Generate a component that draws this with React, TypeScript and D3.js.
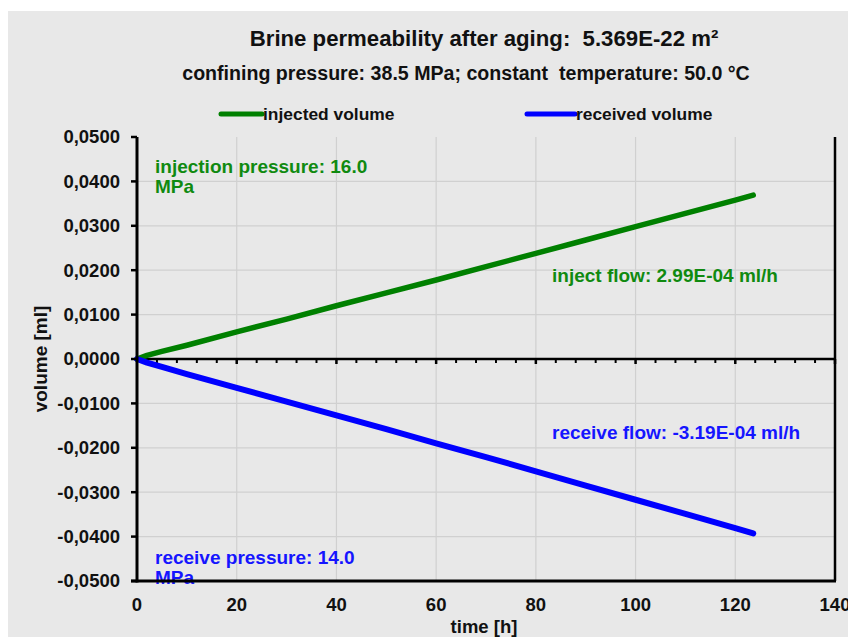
import React from "react";
import * as d3 from "d3";

// Injected volume (ml) vs. time (h)
const injectedTime = [0, 2, 5, 10, 20, 30, 40, 50, 60, 70, 80, 90, 100, 110, 120, 123.6];
const injectedVolume = [0, 0.0008, 0.0017, 0.0031, 0.0061, 0.009, 0.012, 0.0149, 0.0178, 0.0208, 0.0238, 0.0268, 0.0298, 0.0328, 0.0358, 0.0369];

// Received volume (ml) vs. time (h)
const receivedTime = [0, 2, 5, 10, 20, 30, 40, 50, 60, 70, 80, 90, 100, 110, 120, 123.6];
const receivedVolume = [0, -0.0008, -0.0018, -0.0034, -0.0065, -0.0096, -0.0127, -0.0158, -0.019, -0.0221, -0.0253, -0.0285, -0.0317, -0.0349, -0.0381, -0.0393];

const xTicks = [0, 20, 40, 60, 80, 100, 120, 140];
const yTicks = [0.05, 0.04, 0.03, 0.02, 0.01, 0, -0.01, -0.02, -0.03, -0.04, -0.05];

const title = "Brine permeability after aging:\u00a0 5.369E-22 m²";
const subtitle = "confining pressure: 38.5 MPa; constant\u00a0 temperature: 50.0 °C";
const legendLabels = ["injected volume", "received volume"];
const injectPressure = ["injection pressure: 16.0", "MPa"];
const receivePressure = ["receive pressure: 14.0", "MPa"];
const injectFlow = "inject flow: 2.99E-04 ml/h";
const receiveFlow = "receive flow: -3.19E-04 ml/h";

const GREEN = "#008000";
const BLUE = "#0000ff";
const GREEN_TEXT = "#108a10";
const BLUE_TEXT = "#1515ff";
const FONT = "'Liberation Sans', Arial, sans-serif";

export default function App() {
  const W = 848;
  const H = 637;
  const left = 137;
  const right = 835;
  const top = 137;
  const bottom = 581;

  const x = d3.scaleLinear().domain([0, 140]).range([left, right]);
  const y = d3.scaleLinear().domain([-0.05, 0.05]).range([bottom, top]);

  const line = d3
    .line<[number, number]>()
    .x((d) => x(d[0]))
    .y((d) => y(d[1]));

  const injected = injectedTime.map((t, i) => [t, injectedVolume[i]] as [number, number]);
  const received = receivedTime.map((t, i) => [t, receivedVolume[i]] as [number, number]);

  const minorTicks = d3.range(0, 141, 4).filter((t) => t % 20 !== 0);
  const fmtY = (v: number) => d3.format(".4f")(v).replace(".", ",").replace("−", "-");

  return (
    <svg
      width={W}
      height={H}
      style={{ position: "absolute", left: 0, top: 0 }}
      fontFamily={FONT}
      fontWeight="bold"
    >
      <rect x={0} y={0} width={W} height={H} fill="#ffffff" />
      <rect x={8} y={11} width={W - 8} height={H - 11} fill="#e8e8e8" />

      <text x={484} y={46} textAnchor="middle" fontSize={22.2} fill="#111">
        {title}
      </text>
      <text x={466} y={80} textAnchor="middle" fontSize={19.6} fill="#111">
        {subtitle}
      </text>

      {/* legend */}
      <line x1={221} x2={262} y1={114} y2={114} stroke={GREEN} strokeWidth={5} strokeLinecap="round" />
      <text x={263} y={120} fontSize={17.4} fill="#111">{legendLabels[0]}</text>
      <line x1={527} x2={575} y1={114} y2={114} stroke={BLUE} strokeWidth={5} strokeLinecap="round" />
      <text x={576} y={120} fontSize={17.4} fill="#111">{legendLabels[1]}</text>

      {/* grid */}
      {yTicks.filter((v) => v !== 0.05 && v !== -0.05 && v !== 0).map((v) => (
        <line key={"gy" + v} x1={left} x2={right} y1={y(v)} y2={y(v)} stroke="#d0d0d0" strokeWidth={1.2} />
      ))}
      {xTicks.filter((t) => t !== 0 && t !== 140).map((t) => (
        <line key={"gx" + t} x1={x(t)} x2={x(t)} y1={top} y2={bottom} stroke="#d0d0d0" strokeWidth={1.2} />
      ))}

      {/* annotations */}
      <g fontSize={19}>
        <text x={155} y={173} fill={GREEN_TEXT}>{injectPressure[0]}</text>
        <text x={155} y={193} fill={GREEN_TEXT}>{injectPressure[1]}</text>
        <text x={552} y={282} fill={GREEN_TEXT}>{injectFlow}</text>
        <text x={552} y={439} fill={BLUE_TEXT}>{receiveFlow}</text>
        <text x={155} y={564} fill={BLUE_TEXT}>{receivePressure[0]}</text>
        <text x={155} y={584} fill={BLUE_TEXT}>{receivePressure[1]}</text>
      </g>

      {/* zero line with ticks */}
      <line x1={left} x2={right} y1={y(0)} y2={y(0)} stroke="#000" strokeWidth={2.5} />
      {minorTicks.map((t) => (
        <line key={"mt" + t} x1={x(t)} x2={x(t)} y1={y(0)} y2={y(0) + 4} stroke="#000" strokeWidth={2} />
      ))}
      {xTicks.filter((t) => t !== 0).map((t) => (
        <line key={"Mt" + t} x1={x(t)} x2={x(t)} y1={y(0)} y2={y(0) + 5} stroke="#000" strokeWidth={2.5} />
      ))}

      {/* series */}
      <path d={line(injected) || ""} fill="none" stroke={GREEN} strokeWidth={5.5} strokeLinecap="round" strokeLinejoin="round" />
      <path d={line(received) || ""} fill="none" stroke={BLUE} strokeWidth={6} strokeLinecap="round" strokeLinejoin="round" />

      {/* frame */}
      <line x1={left} x2={left} y1={top} y2={bottom + 1.5} stroke="#000" strokeWidth={3} />
      <line x1={left - 6} x2={right + 1} y1={bottom} y2={bottom} stroke="#000" strokeWidth={3} />
      <line x1={right} x2={right} y1={top} y2={bottom} stroke="#000" strokeWidth={2.5} />
      {yTicks.map((v) => (
        <line key={"yt" + v} x1={left - 6} x2={left} y1={y(v)} y2={y(v)} stroke="#000" strokeWidth={2.5} />
      ))}

      {/* axis labels */}
      <g fontSize={18.5} fill="#111">
        {yTicks.map((v) => (
          <text key={"yl" + v} x={120} y={y(v)} dy="0.35em" textAnchor="end">
            {fmtY(v)}
          </text>
        ))}
        {xTicks.map((t) => (
          <text key={"xl" + t} x={x(t)} y={611} textAnchor="middle">
            {t}
          </text>
        ))}
      </g>
      <text x={484} y={633} textAnchor="middle" fontSize={18.5} fill="#111">time [h]</text>
      <text transform={`translate(47,${y(0)}) rotate(-90)`} textAnchor="middle" fontSize={19} fill="#111">
        volume [ml]
      </text>
    </svg>
  );
}
